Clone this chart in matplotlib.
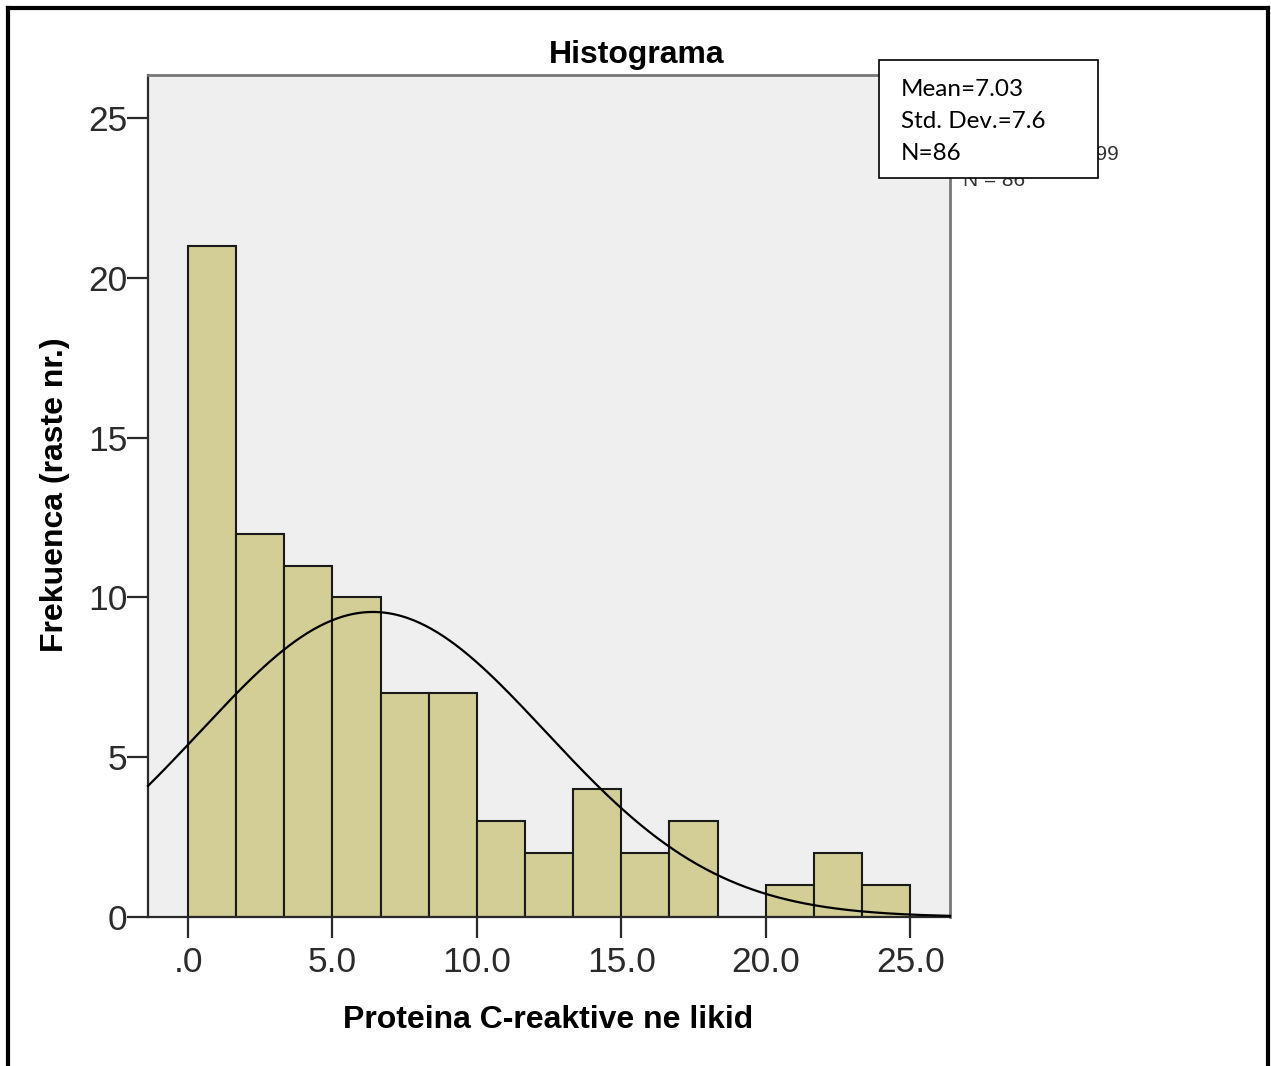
import numpy as np
import matplotlib
matplotlib.use("Agg")
import matplotlib.pyplot as plt
from matplotlib.lines import Line2D
from matplotlib.patches import Rectangle

# ---- data ----
bin_edges = np.linspace(0, 25, 16)
counts = [21, 12, 11, 10, 7, 7, 3, 2, 4, 2, 3, 0, 1, 2, 1]
curve_mean = 6.4
curve_sd = 5.99
n_total = 86
y_ticks = [0, 5, 10, 15, 20, 25]
y_ticklabels = ["0", "5", "10", "15", "20", "25"]
x_ticks = [0, 5, 10, 15, 20, 25]
x_ticklabels = [".0", "5.0", "10.0", "15.0", "20.0", "25.0"]
box_lines = ["Mean=7.03", "Std. Dev.=7.6", "N=86"]
hidden_lines = ["Std. Dev. = 5.99", "N = 86"]

W, H = 1271, 1066
fig = plt.figure(figsize=(W / 100, H / 100), dpi=100)
fig.patch.set_facecolor("white")

def fx(px):
    return px / W

def fy(py):
    return 1 - py / H

ax = fig.add_axes([fx(148), fy(917), fx(950) - fx(148), fy(75) - fy(917)])
ax.set_facecolor("#efefef")
ax.set_xlim(-1.385, 26.38)
ax.set_ylim(0, 26.35)

widths = np.diff(bin_edges)
ax.bar(bin_edges[:-1], counts, width=widths, align="edge",
       color="#d2ce96", edgecolor="#1a1a1a", linewidth=1.5, zorder=2)

xs = np.linspace(-1.385, 26.38, 400)
bw = widths[0]
ys = n_total * bw / (curve_sd * np.sqrt(2 * np.pi)) * np.exp(-0.5 * ((xs - curve_mean) / curve_sd) ** 2)
ax.plot(xs, ys, color="black", linewidth=1.6, zorder=3, clip_on=False)

for side in ["left", "bottom"]:
    ax.spines[side].set_color("#2a2a2a")
    ax.spines[side].set_linewidth(1.6)
for side in ["top", "right"]:
    ax.spines[side].set_color("#777777")
    ax.spines[side].set_linewidth(2.0)

tickfont = dict(family="Liberation Sans", size=25.5)
ax.set_yticks(y_ticks)
ax.set_yticklabels(y_ticklabels, color="#2b2b2b", **tickfont)
ax.set_xticks(x_ticks)
ax.set_xticklabels(x_ticklabels, color="#2b2b2b", **tickfont)
ax.tick_params(axis="y", direction="out", length=15, width=1.6, color="#2a2a2a", pad=0)
ax.tick_params(axis="x", direction="out", length=15, width=1.6, color="#2a2a2a", pad=6)

labfont = dict(family="Liberation Sans", size=23, weight="bold")
fig.text(fx(637), fy(55), "Histograma", ha="center", va="center", **labfont)
fig.text(fx(548), fy(1020), "Proteina C-reaktive ne likid", ha="center", va="center", **labfont)
fig.text(fx(55), fy(495), "Frekuenca (raste nr.)", ha="center", va="center", rotation=90, **labfont)

# partially hidden original legend
fig.text(fx(1119), fy(155), hidden_lines[0], ha="right", va="center",
         family="Liberation Sans", size=15, color="#333333")
fig.text(fx(963), fy(180), hidden_lines[1], ha="left", va="center",
         family="Liberation Sans", size=15, color="#333333")

# overlay box
box = Rectangle((fx(879), fy(178)), fx(1098) - fx(879), fy(60) - fy(178),
                transform=fig.transFigure, facecolor="white", edgecolor="black",
                linewidth=1.2, zorder=10)
fig.patches.append(box)
for i, t in enumerate(box_lines):
    fig.text(fx(901), fy(89 + 32.5 * i), t, ha="left", va="center",
             family="Lato", size=17.5, color="black", zorder=11)

# outer border (open at bottom)
lw_b = 3
fig.add_artist(Line2D([fx(8), fx(8)], [0, fy(8)], transform=fig.transFigure, color="black", linewidth=lw_b))
fig.add_artist(Line2D([fx(1268), fx(1268)], [0, fy(8)], transform=fig.transFigure, color="black", linewidth=lw_b))
fig.add_artist(Line2D([fx(8), fx(1268)], [fy(8), fy(8)], transform=fig.transFigure, color="black", linewidth=lw_b))

fig.savefig("out.png", dpi=100)
